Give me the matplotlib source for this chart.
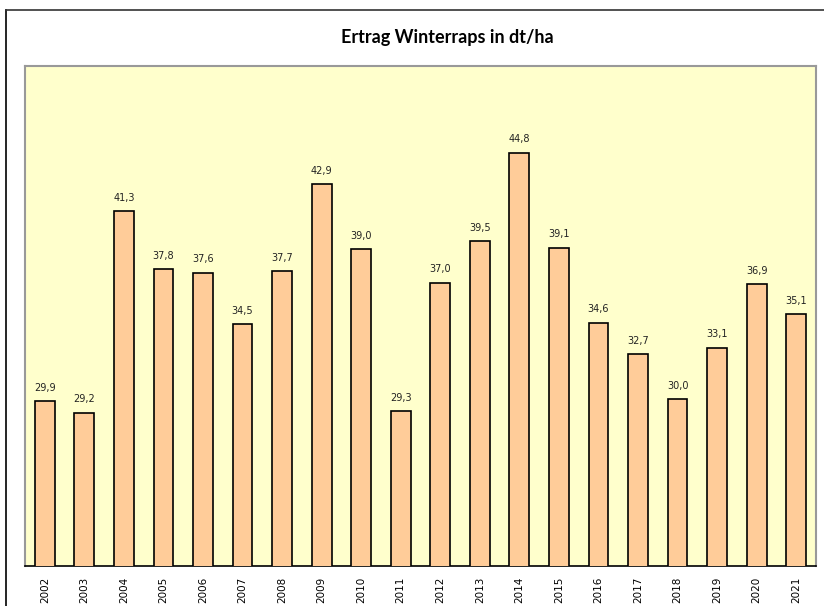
import matplotlib.pyplot as plt
from matplotlib.patches import Rectangle

years = ['2002', '2003', '2004', '2005', '2006', '2007', '2008', '2009', '2010', '2011',
         '2012', '2013', '2014', '2015', '2016', '2017', '2018', '2019', '2020', '2021']
ertrag = [29.9, 29.2, 41.3, 37.8, 37.6, 34.5, 37.7, 42.9, 39.0, 29.3,
          37.0, 39.5, 44.8, 39.1, 34.6, 32.7, 30.0, 33.1, 36.9, 35.1]

fig = plt.figure(figsize=(8.24, 6.06), dpi=100)
fig.patch.set_facecolor('white')

# outer frame (open to the right and bottom like the screenshot)
fig.add_artist(plt.Line2D([6/824, 6/824], [0, 1 - 9.5/606], transform=fig.transFigure,
                          color='black', lw=1.2))
fig.add_artist(plt.Line2D([6/824, 1], [1 - 9.5/606, 1 - 9.5/606], transform=fig.transFigure,
                          color='#333333', lw=1.2))

ax = fig.add_axes([25/824, 1 - 566/606, (816 - 25)/824, (566 - 66)/606])
ax.set_facecolor('#FFFFCC')

x = range(len(years))
ax.bar(x, ertrag, width=0.5, color='#FFCC99', edgecolor='black', linewidth=1.2, zorder=3)

for i, v in enumerate(ertrag):
    ax.text(i, v + 0.5, f'{v:.1f}'.replace('.', ','), ha='center', va='bottom',
            fontsize=7, color='#222222', family='DejaVu Sans')

ax.set_xlim(-0.5, len(years) - 0.5)
ax.set_ylim(20, 50)
ax.set_yticks([])
ax.set_xticks(list(x))
ax.set_xticklabels(years, rotation=90, fontsize=7.5)
ax.tick_params(axis='x', length=0, pad=8)

for side in ['top', 'left', 'right']:
    ax.spines[side].set_color('#999999')
    ax.spines[side].set_linewidth(1.5)
ax.spines['bottom'].set_color('black')
ax.spines['bottom'].set_linewidth(1.2)

fig.text(0.543, 1 - 37/606, 'Ertrag Winterraps in dt/ha', ha='center', va='center',
         fontsize=13, fontweight='bold', family=['Lato', 'DejaVu Sans'])

fig.savefig('out.png', dpi=100)
